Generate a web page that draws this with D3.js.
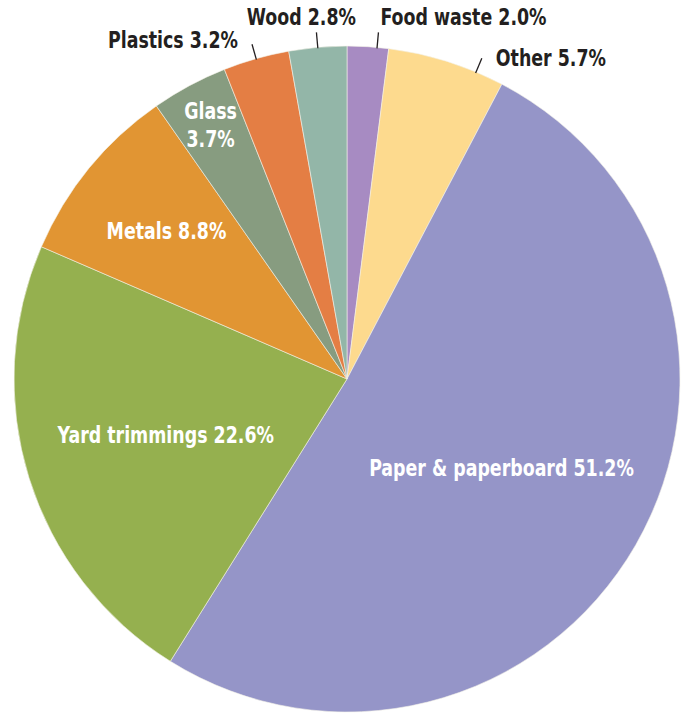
<!DOCTYPE html>
<html>
<head>
<meta charset="utf-8">
<script src="https://cdn.jsdelivr.net/npm/d3@7"></script>
<style>
  body { margin: 0; background: #fff; }
  text { font-family: "DejaVu Sans Condensed", "DejaVu Sans", sans-serif; font-weight: bold; }
</style>
</head>
<body>
<svg id="chart"></svg>
<script>
// data, clockwise from 12 o'clock
const categories = ['Food waste', 'Other', 'Paper & paperboard', 'Yard trimmings', 'Metals', 'Glass', 'Plastics', 'Wood'];
const percents = [2.0, 5.7, 51.2, 22.6, 8.8, 3.7, 3.2, 2.8];
const colors = ['#a78bc2', '#fdda8e', '#9595c8', '#95b04f', '#e19533', '#879c80', '#e47e44', '#93b6a8'];

const width = 685, height = 713;
const cx = 347, cy = 379, radius = 333;
const fontSize = 22.5, squeeze = 0.86; // fake a condensed face

// label layout: inside labels sit on a radius fraction, outside ones hang off a leader
const labelLayout = {
  'Food waste':         { out: true, frac: 0.72, anchor: 'start',  dx: 2,   dy: -7 },
  'Other':              { out: true, frac: 0.76, anchor: 'start',  dx: 14,  dy: 8 },
  'Paper & paperboard': { out: false, r: 0.535 },
  'Yard trimmings':     { out: false, r: 0.57 },
  'Metals':             { out: false, r: 0.70 },
  'Glass':              { out: false, r: 0.865, split: true },
  'Plastics':           { out: true, frac: 0.5, anchor: 'end',    dx: -14, dy: 4 },
  'Wood':               { out: true, frac: 0.5, anchor: 'middle', dx: -15, dy: -7 }
};

const data = categories.map((c, i) => ({ name: c, value: percents[i], color: colors[i] }));

const svg = d3.select('#chart')
  .attr('width', width)
  .attr('height', height);

const g = svg.append('g')
  .attr('transform', `translate(${cx},${cy})`);

const pie = d3.pie()
  .sort(null)
  .value(d => d.value);

const arc = d3.arc()
  .innerRadius(0)
  .outerRadius(radius);

const arcs = pie(data);

g.selectAll('path.slice')
  .data(arcs)
  .enter()
  .append('path')
  .attr('class', 'slice')
  .attr('d', arc)
  .attr('fill', d => d.data.color)
  .attr('stroke', '#f4f1e8')
  .attr('stroke-width', 0.6);

const fmt = v => v.toFixed(1) + '%';
const polar = (a, r) => [r * Math.sin(a), -r * Math.cos(a)];

function addText(x, y, anchor, fill) {
  return g.append('g')
    .attr('transform', `translate(${x},${y}) scale(${squeeze},1)`)
    .append('text')
    .attr('text-anchor', anchor)
    .attr('fill', fill)
    .attr('font-size', fontSize);
}

arcs.forEach(d => {
  const lay = labelLayout[d.data.name];
  const label = d.data.name + ' ' + fmt(d.data.value);
  if (lay.out) {
    const a = d.startAngle + (d.endAngle - d.startAngle) * lay.frac;
    const p0 = polar(a, radius - 1);
    const p1 = polar(a, radius + 15);
    g.append('line')
      .attr('x1', p0[0]).attr('y1', p0[1])
      .attr('x2', p1[0]).attr('y2', p1[1])
      .attr('stroke', '#231f20')
      .attr('stroke-width', 1.3);
    addText(p1[0] + lay.dx, p1[1] + lay.dy, lay.anchor, '#231f20')
      .text(label);
  } else {
    const a = (d.startAngle + d.endAngle) / 2;
    const p = polar(a, radius * lay.r);
    const t = addText(p[0], p[1], 'middle', '#fff');
    if (lay.split) {
      t.append('tspan').attr('x', 0).attr('dy', '-0.3em').text(d.data.name);
      t.append('tspan').attr('x', 0).attr('dy', '1.25em').text(fmt(d.data.value));
    } else {
      t.attr('dy', '0.35em').text(label);
    }
  }
});
</script>
</body>
</html>
